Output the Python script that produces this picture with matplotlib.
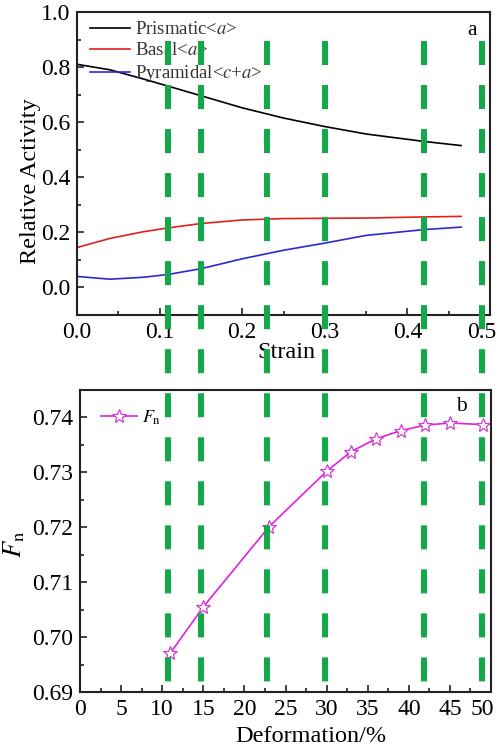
import numpy as np
import matplotlib
matplotlib.use('Agg')
from matplotlib import pyplot as plt
from matplotlib.lines import Line2D
from matplotlib.ticker import MultipleLocator
from matplotlib.transforms import blended_transform_factory

plt.rcParams['font.family'] = 'Liberation Serif'
plt.rcParams['mathtext.fontset'] = 'stix'
plt.rcParams['lines.scale_dashes'] = False

# relative activity of slip systems vs strain
strain = [0.0, 0.04, 0.08, 0.11, 0.15, 0.20, 0.25, 0.30, 0.35, 0.42, 0.465]
prismatic = [0.810, 0.790, 0.757, 0.731, 0.696, 0.652, 0.615, 0.584, 0.557, 0.530, 0.515]
basal = [0.145, 0.178, 0.202, 0.216, 0.232, 0.245, 0.250, 0.251, 0.252, 0.256, 0.258]
pyramidal = [0.040, 0.030, 0.037, 0.047, 0.068, 0.104, 0.135, 0.161, 0.189, 0.210, 0.219]
strain_ticks = [0.0, 0.1, 0.2, 0.3, 0.4, 0.5]

# Fn vs deformation
deform = [11, 15, 23, 30, 33, 36, 39, 42, 45, 49]
fn = [0.6971, 0.7055, 0.7201, 0.7302, 0.7338, 0.7361, 0.7376, 0.7386, 0.7390, 0.7387]
deform_ticks = [0, 5, 10, 15, 20, 25, 30, 35, 40, 45, 50]

# marked strains (shared by both panels)
marks = [0.11, 0.15, 0.23, 0.30, 0.42, 0.49]

fig = plt.figure(figsize=(4.98, 7.47), dpi=100)
ax1 = fig.add_axes([0.1546, 0.5783, 0.8294, 0.4057])
ax2 = fig.add_axes([0.1606, 0.0736, 0.8254, 0.4043])


def edge_ticks(ax, ticks, fmt):
    # the last x label sits against the figure edge, so it is drawn
    # separately and nudged inward
    ax.set_xticks(ticks)
    ax.set_xticklabels([fmt(t) for t in ticks[:-1]] + [''])
    ax.annotate(fmt(ticks[-1]), xy=(ticks[-1], 0),
                xycoords=('data', 'axes fraction'), xytext=(-6, -5),
                textcoords='offset points', ha='center', va='top',
                fontsize=17)


ax1.plot(strain, prismatic, color='black', lw=1.2, label='Prismatic<$a$>')
ax1.plot(strain, basal, color='#e0201c', lw=1.2, label='Basal<$a$>')
ax1.plot(strain, pyramidal, color='#2a2ad0', lw=1.2, label='Pyramidal<$c$+$a$>')
ax1.set_xlim(0, 0.5)
ax1.set_ylim(-0.1, 1.0)
edge_ticks(ax1, strain_ticks, lambda v: f'{v:.1f}')
ax1.xaxis.set_minor_locator(MultipleLocator(0.05))
ax1.set_yticks(np.arange(0, 1.01, 0.2))
ax1.yaxis.set_minor_locator(MultipleLocator(0.1))
ax1.yaxis.set_major_formatter(lambda v, p: f'{v:.1f}')
ax1.set_xlabel('Strain', fontsize=17.5)
ax1.set_ylabel('Relative Activity', fontsize=17.5)
ax1.xaxis.set_label_coords(0.508, -0.09)
ax1.yaxis.set_label_coords(-0.088, 0.442)
ax1.text(0.956, 0.94, 'a', transform=ax1.transAxes, fontsize=15.5,
         ha='center', va='center')
leg1 = ax1.legend(loc='upper left', frameon=False, fontsize=13.5,
                  handlelength=2.1, handletextpad=0.25, labelspacing=0.2,
                  borderaxespad=0.1, bbox_to_anchor=(0.01, 1.0))
for t in leg1.get_texts():
    t.set_color('#333333')

ax2.plot(deform, fn, color='#e020e0', lw=1.2, marker='*', ms=10,
         mfc='white', mec='#d040d0', mew=0.9,
         label=r'$F_{\mathrm{n}}$')
ax2.set_xlim(0, 50)
ax2.set_ylim(0.69, 0.745)
edge_ticks(ax2, deform_ticks, lambda v: f'{v:d}')
ax2.xaxis.set_minor_locator(MultipleLocator(2.5))
ax2.set_yticks(np.arange(0.69, 0.7401, 0.01))
ax2.yaxis.set_minor_locator(MultipleLocator(0.005))
ax2.yaxis.set_major_formatter(lambda v, p: f'{v:.2f}')
ax2.set_xlabel('Deformation/%', fontsize=17.5)
ax2.set_ylabel(r'$F_{\mathrm{n}}$', fontsize=19)
ax2.xaxis.set_label_coords(0.562, -0.113)
ax2.yaxis.set_label_coords(-0.128, 0.49)
ax2.text(0.927, 0.944, 'b', transform=ax2.transAxes, fontsize=15.5,
         ha='center', va='center')
ax2.legend(loc='upper left', frameon=False, fontsize=13, handlelength=2.0,
           handletextpad=0.3, borderaxespad=0.3, bbox_to_anchor=(0.02, 0.98))

for ax in (ax1, ax2):
    for s in ax.spines.values():
        s.set_linewidth(1.5)
        s.set_color('#222222')
    ax.tick_params(which='both', direction='in', top=False, right=False,
                   labelsize=17, width=1.2, color='#222222')
    ax.tick_params(which='major', length=5, pad=5)
    ax.tick_params(which='minor', length=3)

# dashed green markers running through both panels
tr = blended_transform_factory(ax1.transData, fig.transFigure)
for m in marks:
    fig.add_artist(Line2D([m, m], [0.945, 0.080], transform=tr,
                          color='#14a84a', lw=4.4,
                          dashes=(17.3, 14.4), zorder=10))

fig.savefig('out.png', dpi=100)
